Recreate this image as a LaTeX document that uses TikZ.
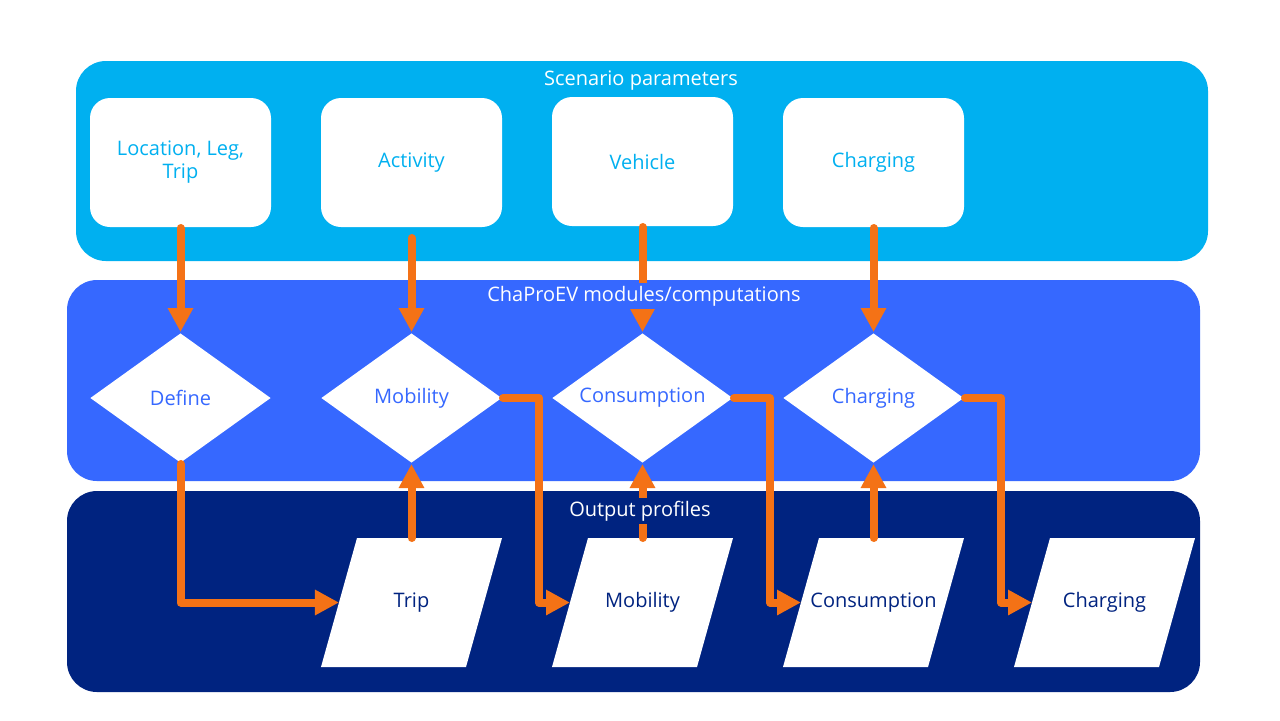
\documentclass[tikz,border=0pt]{standalone}
\usepackage{fontspec}
\setmainfont{Open Sans}
\usetikzlibrary{shapes.geometric,arrows.meta}

\definecolor{scen}{RGB}{0,176,240}
\definecolor{modu}{RGB}{54,104,255}
\definecolor{outp}{RGB}{0,35,128}
\definecolor{orng}{RGB}{244,114,22}

\newcommand{\proftext}[1]{\makebox[54.5pt]{#1}}

\tikzset{
every picture/.style={
line width=1pt
}}

\begin{document}
\begin{tikzpicture}[x=0.5pt, y=-0.5pt,
font=\fontsize{10}{11.5}\selectfont,
band/.style = {rounded corners=15pt},
title/.style = {text=white, inner sep=1.5pt},
param/.style = {rectangle, rounded corners=10pt, fill=white, text=scen, minimum width=90.5pt, minimum height=64.5pt, align=center, inner sep=0pt},
module/.style = {diamond, fill=white, text=modu, shape aspect=1.4, minimum width=90.5pt, minimum height=65pt, inner sep=0pt},
profile/.style = {trapezium, trapezium left angle=74.4, trapezium right angle=105.6, fill=white, text=outp, inner xsep=0pt, inner ysep=27.75pt, text height=7pt, text depth=2pt, outer sep=0pt},
flowline/.style = {orng, line width=4pt, line cap=round, line join=round, -{Triangle[length=12pt, width=12pt]}}]

\useasboundingbox (0,0) rectangle (1280,720);
\fill[white] (0,0) rectangle (1280,720);

% three layers
\fill[scen, band] (76,61) rectangle (1208,261);
\fill[modu, band] (67,280) rectangle (1200,481);
\fill[outp, band] (67,491) rectangle (1200,692);

\node[param] (loc) at (180.5,162.5) {Location, Leg,\\Trip};
\node[param] (act) at (411.5,162.5) {Activity};
\node[param] (veh) at (642.5,161.5) {Vehicle};
\node[param] (chg) at (873.5,162.5) {Charging};

\node[module] (def) at (180.5,398) {Define};
\node[module] (mob) at (411.5,398) {Mobility};
\node[module] (con) at (642.5,398) {Consumption};
\node[module] (chr) at (873.5,398) {Charging};

\node[profile] (trip) at (411.5,602.5) {\proftext{Trip}};
\node[profile] (pmob) at (642.5,602.5) {\proftext{Mobility}};
\node[profile] (pcon) at (873.5,602.5) {\proftext{Consumption}};
\node[profile] (pchr) at (1104.5,602.5) {\proftext{Charging}};

% parameters into modules
\draw[flowline] (loc.south) -- (def.north);
\draw[flowline] ([yshift=-5pt]act.south) -- (mob.north);
\draw[flowline] (veh.south) -- (con.north);
\draw[flowline] (chg.south) -- (chr.north);

% modules to profiles
\draw[flowline] (def.south) |- (trip.west);
\draw[flowline] (mob.east) -- ++(36,0) |- (pmob.west);
\draw[flowline] (con.east) -- ++(36,0) |- (pcon.west);
\draw[flowline] (chr.east) -- ++(36,0) |- (pchr.west);

% profiles back into modules
\draw[flowline] (trip.center |- trip.north) -- (mob.south);
\draw[flowline] (pmob.center |- pmob.north) -- (con.south);
\draw[flowline] (pcon.center |- pcon.north) -- (chr.south);

\node[title, fill=scen] (stitle) at (641,81) {Scenario parameters};
\node[title, fill=modu] (mtitle) at (644,296) {ChaProEV modules/computations};
\node[title, fill=outp] (otitle) at (640,511) {Output profiles};
\end{tikzpicture}
\end{document}
